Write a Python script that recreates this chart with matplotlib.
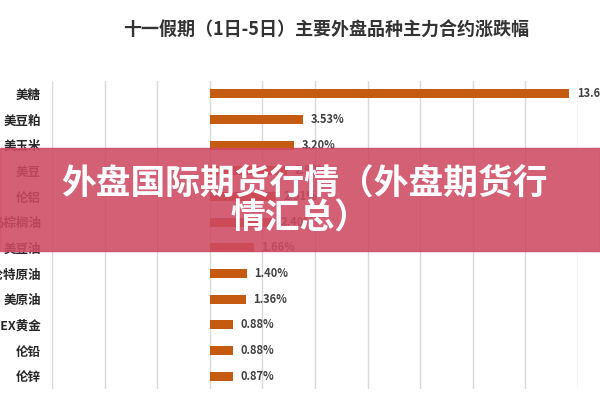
import matplotlib.pyplot as plt
from matplotlib.patches import Rectangle

plt.rcParams['font.family'] = ['Noto Sans CJK SC', 'DejaVu Sans']

# 十一假期主要外盘品种涨跌幅 (%)
categories = ['美糖', '美豆粕', '美玉米', '美豆', '伦铝', '马棕榈油', '美豆油',
              '布伦特原油', '美原油', 'COMEX黄金', '伦铅', '伦锌']
values = [13.68, 3.53, 3.20, 2.92, 2.51, 2.40, 1.66, 1.40, 1.36, 0.88, 0.88, 0.87]
labels = ['%.2f%%' % v for v in values]

fig = plt.figure(figsize=(6, 4), dpi=100)
ax = fig.add_axes([0.087, 0.0275, 0.876, 0.77])

y = list(range(len(categories)))
ax.barh(y, values, height=0.34, color='#c55a11', zorder=2)
for yi, v, t in zip(y, values, labels):
    ax.text(v + 0.3, yi, t, va='center', ha='left', fontsize=8,
            color='#404040', fontweight='bold', clip_on=False)

ax.set_xlim(-6, 14)
ax.set_ylim(len(categories) - 0.5, -0.5)
ax.set_xticks(range(-6, 15, 2))
ax.set_xticklabels([])
ax.grid(axis='x', color='#d9d9d9', linewidth=1, zorder=0)
ax.tick_params(length=0, pad=8)
ax.set_yticks(y)
ax.set_yticklabels(categories, fontsize=9, fontweight='bold', color='#262626')
for s in ax.spines.values():
    s.set_visible(False)

fig.text(0.543, 0.925, '十一假期（1日-5日）主要外盘品种主力合约涨跌幅',
         ha='center', va='center', fontsize=13, fontweight='bold', color='#333333')

# 覆盖的红色横幅
fig.patches.append(Rectangle((0, 0.372), 1, 0.258, transform=fig.transFigure,
                             color='#cf4a63', alpha=0.88, zorder=5))
fig.text(0.508, 0.543, '外盘国际期货行情（外盘期货行', ha='center', va='center',
         fontsize=25, fontweight='black', color='white', zorder=6)
fig.text(0.5, 0.455, '情汇总）', ha='center', va='center',
         fontsize=25, fontweight='black', color='white', zorder=6)

fig.savefig('out.png', dpi=100)
